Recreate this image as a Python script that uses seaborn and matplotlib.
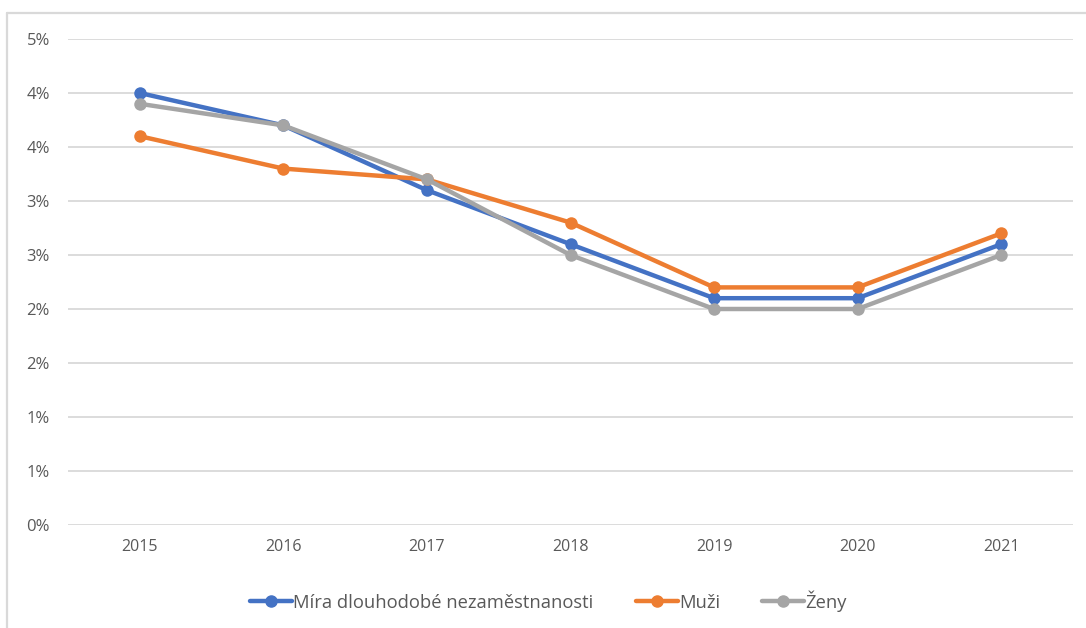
import pandas as pd
import matplotlib.pyplot as plt
import matplotlib.lines as mlines
import seaborn as sns

# data (values in %)
years = ['2015', '2016', '2017', '2018', '2019', '2020', '2021']
mira = [4.0, 3.7, 3.1, 2.6, 2.1, 2.1, 2.6]
muzi = [3.6, 3.3, 3.2, 2.8, 2.2, 2.2, 2.7]
zeny = [3.9, 3.7, 3.2, 2.5, 2.0, 2.0, 2.5]
series_names = ['Míra dlouhodobé nezaměstnanosti', 'Muži', 'Ženy']
colors = ['#4472C4', '#ED7D31', '#A5A5A5']
y_ticks = [0, 0.5, 1.0, 1.5, 2.0, 2.5, 3.0, 3.5, 4.0, 4.5]
y_tick_labels = ['0%', '1%', '1%', '2%', '2%', '3%', '3%', '4%', '4%', '5%']

df = pd.DataFrame({
    'rok': years * 3,
    'hodnota': mira + muzi + zeny,
    'serie': [series_names[0]] * 7 + [series_names[1]] * 7 + [series_names[2]] * 7,
})

sns.set_style('white')
plt.rcParams['font.family'] = ['Open Sans', 'DejaVu Sans']

fig = plt.figure(figsize=(10.86, 6.28), dpi=100)
ax = fig.add_axes([68 / 1086, 103 / 628, 1005 / 1086, 486 / 628])

sns.lineplot(data=df, x='rok', y='hodnota', hue='serie', palette=colors,
             marker='o', markersize=9, markeredgewidth=0, linewidth=3.2,
             sort=False, legend=False, ax=ax)

ax.set_xlim(-0.5, 6.5)
ax.set_ylim(0, 4.5)
ax.set_yticks(y_ticks)
ax.set_yticklabels(y_tick_labels)
ax.grid(axis='y', color='#D9D9D9', linewidth=1.3)
ax.set_axisbelow(True)
for s in ax.spines.values():
    s.set_visible(False)
ax.tick_params(axis='both', length=0, labelsize=11.5, labelcolor='#595959')
ax.tick_params(axis='y', labelsize=12, pad=13)
ax.tick_params(axis='x', pad=10)
ax.set_xlabel('')
ax.set_ylabel('')

# legend
handles = [mlines.Line2D([], [], color=c, marker='o', markersize=8, linewidth=3.2)
           for c in colors]
fig.legend(handles, series_names, loc='center', bbox_to_anchor=(0.505, 1 - 601 / 628),
           ncol=3, frameon=False, fontsize=13.2, labelcolor='#595959',
           handlelength=2.3, handletextpad=0.05, columnspacing=2.3)

# chart frame (top and left edges)
fig.add_artist(mlines.Line2D([7 / 1086, 1], [1 - 13 / 628, 1 - 13 / 628],
                             color='#D9D9D9', linewidth=1.6, transform=fig.transFigure))
fig.add_artist(mlines.Line2D([7 / 1086, 7 / 1086], [0, 1 - 13 / 628],
                             color='#D9D9D9', linewidth=1.6, transform=fig.transFigure))

plt.savefig('out.png', dpi=100)
plt.close()
